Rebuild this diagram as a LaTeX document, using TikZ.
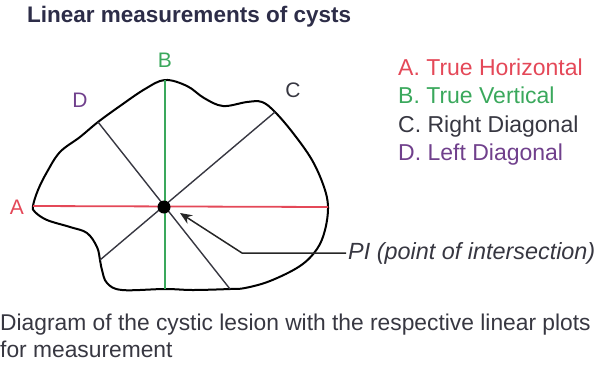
\documentclass[tikz,border=0pt]{standalone}
\usepackage{fontspec}
\setmainfont{Liberation Sans}
\usetikzlibrary{arrows.meta}

\definecolor{lineRed}{RGB}{228,72,88}
\definecolor{lineGreen}{RGB}{58,168,92}
\definecolor{diagGrey}{RGB}{55,55,65}
\definecolor{textPurple}{RGB}{112,64,140}
\definecolor{textNavy}{RGB}{45,45,72}

\begin{document}
\begin{tikzpicture}[
        x=1pt, y=-1pt,
        txt/.style={inner sep=0pt, anchor=base west, font=\fontsize{23}{28}\selectfont},
        letter/.style={inner sep=0pt, font=\fontsize{21}{25}\selectfont},
        outline/.style={line width=2pt, black},
        hline/.style={line width=1.8pt, lineRed},
        vline/.style={line width=1.8pt, lineGreen},
        diag/.style={line width=1.4pt, diagGrey},
        dot/.style={circle, fill=black, inner sep=0pt, minimum size=13pt},
        pointer/.style={-{Stealth[length=12pt, width=10pt]}, line width=1.5pt, black!85}
    ]
        \useasboundingbox (0,0) rectangle (597,368);

        % Title
        \node[txt, font=\fontsize{22.5}{27}\selectfont\bfseries, text=textNavy] (title) at (27,22) {Linear measurements of cysts};

        % Cyst outline
        \coordinate (aL) at (33,206);
        \coordinate (aR) at (328,207);
        \coordinate (bT) at (165,80);
        \coordinate (bB) at (165,289);
        \coordinate (cT) at (275,112);
        \coordinate (cB) at (100,260);
        \coordinate (dT) at (98,122);
        \coordinate (dB) at (230,289);
        \draw[outline] plot[smooth cycle, tension=0.6] coordinates {
            (aL) (38,190) (47,172) (60,152) (80,137) (dT) (120,106) (145,89)
            (bT) (187,86) (204,98) (223,106) (247,102) (262,102) (cT)
            (293,133) (312,160) (324,187) (aR) (325,230) (317,249) (300,266)
            (270,281) (245,288) (dB) (193,290) (bB) (122,290) (107,283)
            (102,270) (cB) (97,247) (87,233) (70,227) (47,220) (35,212)};

        % Measurement lines
        \draw[hline] (aL) -- (aR);
        \draw[vline] (bT) -- (bB);
        \draw[diag] (cT) -- (cB);
        \draw[diag] (dT) -- (dB);
        \node[dot] (pi) at (164,207) {};

        % Line letters
        \node[letter, text=lineRed] (labA) at (17,207) {A};
        \node[letter, text=lineGreen] (labB) at (165,60) {B};
        \node[letter, text=diagGrey] (labC) at (293,90) {C};
        \node[letter, text=textPurple] (labD) at (80,100) {D};

        % Legend
        \node[txt, text=lineRed] (legA) at (398,75) {A. True Horizontal};
        \node[txt, text=lineGreen] (legB) at (398,103) {B. True Vertical};
        \node[txt, text=diagGrey] (legC) at (398,132) {C. Right Diagonal};
        \node[txt, text=textPurple] (legD) at (398,160) {D. Left Diagonal};

        % Pointer to intersection
        \node[txt, anchor=west, inner sep=2pt, font=\fontsize{23.4}{28}\selectfont\itshape, text=diagGrey] (piText) at (346,253) {PI (point of intersection)};
        \coordinate (bend) at (242,253);
        \coordinate (tip) at (180,213);
        \draw[pointer] (piText.west) -- (bend) -- (tip);

        % Caption
        \node[txt, font=\fontsize{22.8}{28}\selectfont, text=diagGrey] (cap1) at (0,330) {Diagram of the cystic lesion with the respective linear plots};
        \node[txt, font=\fontsize{22.8}{28}\selectfont, text=diagGrey] (cap2) at (0,357) {for measurement};
    \end{tikzpicture}
\end{document}
